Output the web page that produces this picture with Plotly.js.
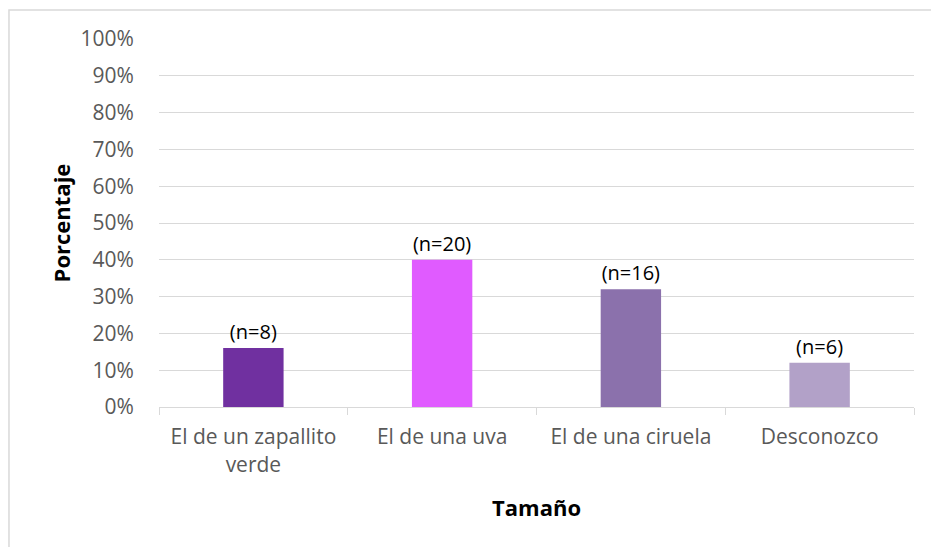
<!DOCTYPE html>
<html>
<head>
<meta charset="utf-8">
<script src="https://cdn.plot.ly/plotly-3.0.1.min.js"></script>
<style>
  html, body { margin: 0; padding: 0; background: #ffffff; }
  #chart { width: 931px; height: 547px; }
</style>
</head>
<body>
<div id="chart"></div>
<script>
const categories = ["El de un zapallito<br>verde", "El de una uva", "El de una ciruela", "Desconozco"];
const counts = [8, 20, 16, 6];
const percentages = [16, 40, 32, 12];
const barColors = ["#7030A0", "#E05BFF", "#8B71AC", "#B2A1C8"];
const yTickVals = [0, 10, 20, 30, 40, 50, 60, 70, 80, 90, 100];
const yTickText = ["0%", "10%", "20%", "30%", "40%", "50%", "60%", "70%", "80%", "90%", "100%"];

const font = "'Open Sans', sans-serif";

const trace = {
  type: "bar",
  x: categories,
  y: percentages,
  text: counts.map(n => "(n=" + n + ")"),
  textposition: "outside",
  textfont: { family: font, size: 20, color: "#000000" },
  cliponaxis: false,
  marker: { color: barColors },
  width: 0.32,
  hoverinfo: "skip"
};

const layout = {
  width: 931,
  height: 547,
  margin: { l: 159, r: 17, t: 39, b: 140 },
  paper_bgcolor: "#ffffff",
  plot_bgcolor: "#ffffff",
  showlegend: false,
  font: { family: font, size: 21, color: "#595959" },
  xaxis: {
    type: "category",
    showline: true,
    linecolor: "#d9d9d9",
    linewidth: 1,
    ticks: "outside",
    tickson: "boundaries",
    ticklen: 7,
    tickcolor: "#d9d9d9",
    ticklabelstandoff: 11,
    tickfont: { family: font, size: 21, color: "#595959" },
    showgrid: false,
    title: { text: "<b>Tamaño</b>", font: { family: font, size: 22, color: "#000000" }, standoff: 24 }
  },
  yaxis: {
    range: [0, 100],
    tickvals: yTickVals,
    ticktext: yTickText,
    showgrid: true,
    gridcolor: "#d9d9d9",
    gridwidth: 1,
    zeroline: false,
    showline: false,
    ticks: "outside",
    ticklen: 20,
    tickcolor: "rgba(0,0,0,0)",
    tickfont: { family: font, size: 21, color: "#595959" },
    title: { text: "<b>Porcentaje</b>", font: { family: font, size: 22, color: "#000000" }, standoff: 3 }
  },
  shapes: [
    {
      type: "rect", xref: "paper", yref: "paper",
      x0: -0.1987, x1: 1.2, y0: -0.6, y1: 1.0788,
      line: { color: "#d9d9d9", width: 1.5 },
      fillcolor: "rgba(0,0,0,0)",
      layer: "below"
    }
  ]
};

Plotly.newPlot("chart", [trace], layout, { displayModeBar: false, staticPlot: true });
</script>
</body>
</html>
